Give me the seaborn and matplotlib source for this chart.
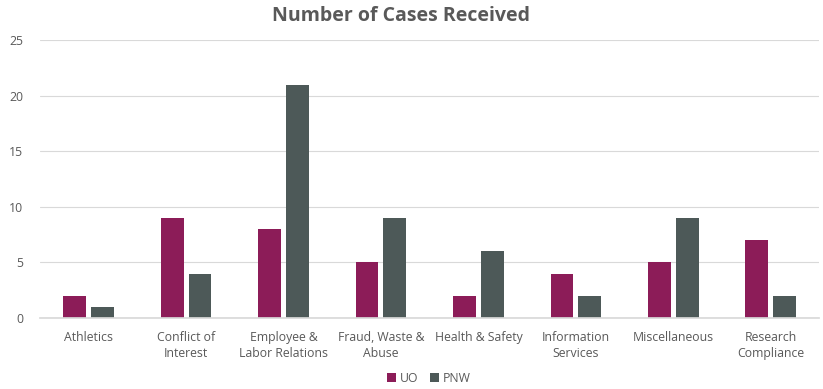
import matplotlib
matplotlib.use("Agg")
import matplotlib.pyplot as plt
import seaborn as sns
import pandas as pd
from matplotlib.patches import Patch

categories = ["Athletics", "Conflict of\nInterest", "Employee &\nLabor Relations",
              "Fraud, Waste &\nAbuse", "Health & Safety", "Information\nServices",
              "Miscellaneous", "Research\nCompliance"]
uo = [2, 9, 8, 5, 2, 4, 5, 7]
pnw = [1, 4, 21, 9, 6, 2, 9, 2]
series = ["UO", "PNW"]
colors = ["#8C1C58", "#4D5958"]

df = pd.DataFrame({
    "cat": categories * 2,
    "val": uo + pnw,
    "series": ["UO"] * len(uo) + ["PNW"] * len(pnw),
})

sns.set_theme(style="white")
plt.rcParams['font.family'] = ['Open Sans', 'DejaVu Sans']

fig = plt.figure(figsize=(8.23, 3.89), dpi=100)
ax = fig.add_axes([0.0486, 0.1825, 0.947, 0.7145])
sns.barplot(data=df, x="cat", y="val", hue="series", hue_order=series,
            palette=colors, width=0.57, gap=0.18, ax=ax, legend=False,
            saturation=1, edgecolor="none")

ax.set_ylim(0, 25)
ax.set_yticks([0, 5, 10, 15, 20, 25])
ax.set_xlim(-0.5, len(categories) - 0.5)
ax.yaxis.grid(True, color="#D9D9D9", linewidth=0.8)
ax.set_axisbelow(True)
for s in ["top", "right", "left"]:
    ax.spines[s].set_visible(False)
ax.spines["bottom"].set_color("#D9D9D9")
ax.set_xlabel("")
ax.set_ylabel("")
ax.tick_params(axis="both", length=0, labelsize=8.8, labelcolor="#595959")
ax.tick_params(axis="y", pad=12)
ax.tick_params(axis="x", pad=9)
for t in ax.get_xticklabels():
    t.set_verticalalignment("top")
    t.set_linespacing(1.3)

fig.suptitle("Number of Cases Received", x=0.487, y=0.985, fontsize=14,
             fontweight="bold", color="#595959")

handles = [Patch(facecolor=c, edgecolor="none", label=s) for s, c in zip(series, colors)]
fig.legend(handles=handles, loc="center", bbox_to_anchor=(0.521, 0.028), ncol=2,
           frameon=False, fontsize=8.8, labelcolor="#595959", handlelength=0.7,
           handleheight=0.7, handletextpad=0.3, columnspacing=1.0)

fig.savefig("out.png", dpi=100)
